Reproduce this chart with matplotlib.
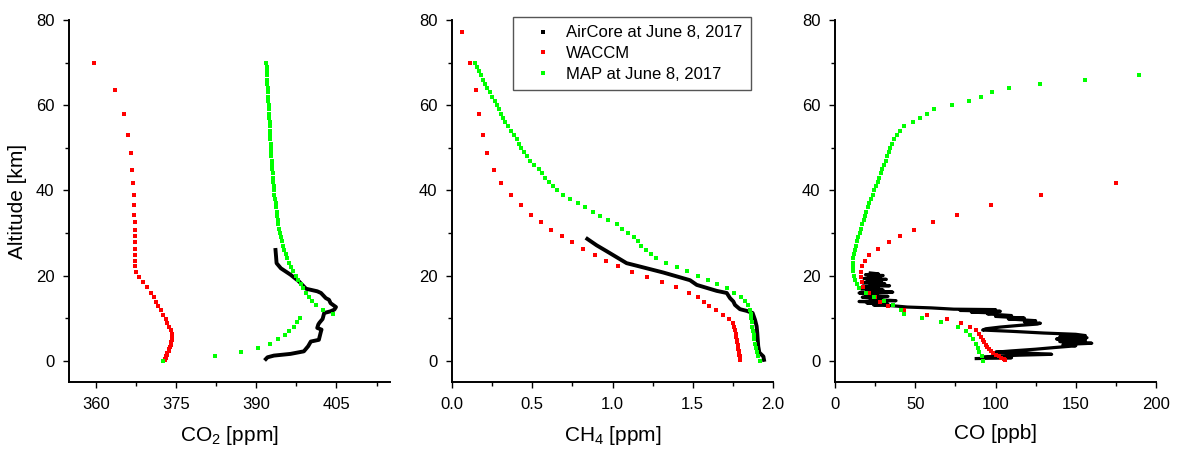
import numpy as np
import matplotlib
matplotlib.use('Agg')
import matplotlib.pyplot as plt
from matplotlib.lines import Line2D
from matplotlib.ticker import MultipleLocator

# ----------------------------------------------------------------------------------------------------------------------
# Datos (altitud en km)
# ----------------------------------------------------------------------------------------------------------------------

# Rejilla de altitud del WACCM
alt_waccm = [77.1, 69.9, 63.5, 57.9, 53.0, 48.7, 44.8, 41.7, 38.8, 36.5, 34.3, 32.5, 30.8, 29.2, 27.8, 26.3,
             24.9, 23.5, 22.2, 20.9, 19.6, 18.4, 17.2, 16.0, 14.9, 13.9, 12.9, 11.8, 10.8, 9.9, 8.9, 8.0, 7.1,
             6.3, 5.6, 4.9, 4.3, 3.7, 3.2, 2.7, 2.2, 1.8, 1.4, 1.0, 0.7, 0.4, 0.1]

co2_waccm = [np.nan, 359.6, 363.6, 365.3, 366.0, 366.5, 366.7, 366.9, 367.1, 367.2, 367.2, 367.3, 367.3, 367.3,
             367.3, 367.3, 367.3, 367.3, 367.4, 367.6, 368.0, 368.8, 369.5, 370.3, 370.8, 371.2, 371.7, 372.2,
             372.6, 373.1, 373.4, 373.7, 374.0, 374.2, 374.2, 374.2, 374.1, 374.0, 373.9, 373.7, 373.6, 373.4,
             373.3, 373.2, 373.1, 373.0, 373.0]

ch4_waccm = [0.064, 0.114, 0.148, 0.168, 0.193, 0.220, 0.260, 0.307, 0.368, 0.428, 0.490, 0.553, 0.617, 0.683,
             0.750, 0.818, 0.889, 0.957, 1.034, 1.120, 1.215, 1.308, 1.397, 1.477, 1.535, 1.570, 1.603, 1.645,
             1.690, 1.726, 1.749, 1.758, 1.763, 1.767, 1.771, 1.774, 1.777, 1.780, 1.782, 1.785, 1.787, 1.789,
             1.791, 1.793, 1.794, 1.795, 1.796]

co_waccm = [np.nan, np.nan, np.nan, np.nan, np.nan, np.nan, np.nan, 175.1, 128.5, 97.4, 76.2, 61.3, 49.4, 40.7,
            33.4, 26.6, 21.4, 18.5, 16.8, 16.0, 16.0, 16.6, 17.7, 21.0, 24.9, 28.0, 32.8, 43.2, 57.5, 70.0, 78.7,
            84.1, 87.9, 89.5, 91.0, 92.0, 93.0, 94.0, 95.0, 96.0, 97.0, 98.5, 100.0, 102.0, 103.5, 105.0, 106.1]

# Rejilla de altitud del MAP
alt_map = [70, 69, 68, 67, 66, 65, 64, 63, 62, 61, 60, 59, 58, 57, 56, 55, 54, 53, 52, 51, 50, 49, 48, 47, 46,
           45, 44, 43, 42, 41, 40, 39, 38, 37, 36, 35, 34, 33, 32, 31, 30, 29, 28, 27, 26, 25, 24, 23, 22, 21,
           20, 19, 18, 17, 16, 15, 14, 13, 12, 11, 10, 9, 8, 7, 6, 5, 4, 3, 2, 1, 0]

co2_map = [391.9, 391.95, 392.0, 392.05, 392.1, 392.1, 392.15, 392.2, 392.2, 392.25,
           392.3, 392.35, 392.4, 392.45, 392.5, 392.5, 392.55, 392.6, 392.65, 392.7,
           392.75, 392.8, 392.85, 392.9, 392.95, 393.0, 393.05, 393.1, 393.2, 393.25,
           393.3, 393.4, 393.5, 393.6, 393.7, 393.8, 393.9, 394.0, 394.15, 394.3,
           394.45, 394.6, 394.8, 395.0, 395.25, 395.5, 395.8, 396.1, 396.5, 396.9,
           397.4, 397.8, 398.3, 398.8, 399.3, 399.9, 400.4, 401.1, 402.4, 404.4,
           398.1, 397.6, 397.0, 396.2, 395.3, 394.1, 392.6, 390.4, 387.2, 382.3, 372.5]

ch4_map = [0.141, 0.153, 0.166, 0.179, 0.191, 0.204, 0.220, 0.237, 0.252, 0.266,
           0.278, 0.292, 0.305, 0.319, 0.333, 0.350, 0.367, 0.384, 0.402, 0.418,
           0.432, 0.447, 0.466, 0.488, 0.512, 0.541, 0.562, 0.582, 0.603, 0.628,
           0.655, 0.690, 0.735, 0.782, 0.830, 0.880, 0.925, 0.970, 1.025, 1.060,
           1.095, 1.135, 1.160, 1.180, 1.207, 1.238, 1.271, 1.333, 1.400, 1.466,
           1.531, 1.593, 1.653, 1.712, 1.760, 1.801, 1.826, 1.846, 1.857, 1.863,
           1.866, 1.869, 1.872, 1.876, 1.880, 1.884, 1.888, 1.893, 1.900, 1.909, 1.920]

co_map = [np.nan, np.nan, np.nan, 189.6, 155.6, 127.9, 108.6, 98.0, 91.2, 83.3,
          73.1, 61.9, 57.5, 53.1, 48.4, 42.8, 40.5, 38.4, 36.8, 35.3,
          34.3, 33.4, 32.4, 31.6, 30.5, 29.5, 28.5, 27.6, 26.6, 25.5,
          24.5, 23.7, 22.6, 21.4, 20.4, 19.5, 18.7, 17.9, 17.0, 16.2,
          15.4, 14.5, 13.7, 13.1, 12.5, 11.8, 11.5, 11.3, 11.3, 11.5,
          11.8, 12.5, 13.5, 15.1, 19.1, 24.3, 30.5, 36.3, 41.1, 43.2,
          54.4, 66.2, 76.6, 81.6, 84.1, 86.2, 87.9, 88.9, 89.9, 91.4, 92.4]

# Perfiles AirCore (trazos)
co2_air = [393.6, 393.7, 393.8, 394.6, 396.4, 398.0, 399.3, 401.4, 402.1, 403.0, 403.6, 403.9, 404.9, 404.6,
           403.9, 402.7, 402.4, 401.8, 401.6, 401.4, 402.2, 402.1, 401.7, 400.2, 399.7, 398.9, 396.4, 393.3,
           392.1, 391.8]
alt_co2_air = [26.0, 24.5, 22.9, 21.7, 20.2, 18.6, 16.9, 16.3, 15.9, 14.7, 14.3, 13.5, 12.6, 12.0,
               11.6, 11.2, 9.8, 8.9, 8.5, 7.7, 7.3, 6.9, 4.9, 4.5, 3.4, 2.2, 1.6, 1.2, 0.8, 0.4]

ch4_air = [0.843, 0.901, 0.964, 1.026, 1.088, 1.151, 1.234, 1.317, 1.400, 1.483, 1.525, 1.587, 1.649, 1.712,
           1.732, 1.753, 1.763, 1.794, 1.836, 1.873, 1.888, 1.898, 1.902, 1.905, 1.908, 1.915, 1.940, 1.944]
alt_ch4_air = [28.6, 27.1, 25.7, 24.3, 22.9, 22.3, 21.5, 20.7, 19.8, 18.9, 17.8, 17.1, 16.4, 15.9,
               14.7, 13.9, 13.1, 12.1, 11.7, 11.2, 9.6, 8.1, 6.5, 4.9, 3.4, 1.9, 1.0, 0.2]

co_air = [22, 27, 19, 30, 21, 28, 18, 32, 20, 29, 17, 31, 22, 34, 18, 27, 16, 30, 20, 36, 15, 26, 19, 33,
          17, 29, 22, 38, 15, 27, 20, 33, 24, 36,
          45, 60, 74,
          100, 78, 103, 85, 100,
          95, 110, 100, 118, 108, 125, 118, 128, 126,
          115, 103, 94, 92,
          110, 130, 150, 156,
          140, 157, 138, 156, 140, 160, 142, 150,
          137, 125, 110, 100, 120, 135, 115, 100, 92, 110, 88]
alt_co_air = [20.6, 20.4, 20.2, 20.0, 19.8, 19.5, 19.3, 19.1, 18.8, 18.6, 18.3, 18.1, 17.9, 17.6, 17.4, 17.1,
              16.9, 16.6, 16.4, 16.1, 15.9, 15.6, 15.4, 15.1, 14.9, 14.6, 14.4, 14.1, 13.9, 13.7, 13.5, 13.3,
              13.1, 12.9,
              12.6, 12.4, 12.1,
              12.0, 11.8, 11.6, 11.4, 11.2,
              11.0, 10.6, 10.4, 10.0, 9.8, 9.4, 9.1, 8.8, 8.6,
              8.3, 7.9, 7.5, 7.2,
              6.9, 6.5, 6.2, 5.9,
              5.6, 5.4, 5.1, 4.8, 4.5, 4.1, 3.8, 3.5,
              3.1, 2.7, 2.3, 2.0, 1.8, 1.5, 1.3, 1.1, 0.8, 0.7, 0.5]

# ----------------------------------------------------------------------------------------------------------------------
# Estilo general
# ----------------------------------------------------------------------------------------------------------------------

plt.rcParams['font.family'] = ['Liberation Sans', 'DejaVu Sans']
plt.rcParams['mathtext.fontset'] = 'custom'
plt.rcParams['mathtext.rm'] = 'Liberation Sans'
plt.rcParams['mathtext.default'] = 'regular'

c_red = '#ff0000'
c_green = '#00ff00'

fig = plt.figure(figsize=(11.77, 4.51), dpi=100)
ancho = 321 / 1177
alto = 362 / 451
abajo = 69 / 451
izquierdas = [69 / 1177, 452 / 1177, 835 / 1177]
axes = [fig.add_axes([x0, abajo, ancho, alto]) for x0 in izquierdas]

paneles = [
    (co2_air, alt_co2_air, co2_waccm, co2_map, (355, 415), 15, 'CO$_2$ [ppm]'),
    (ch4_air, alt_ch4_air, ch4_waccm, ch4_map, (0, 2.0), 0.5, 'CH$_4$ [ppm]'),
    (co_air, alt_co_air, co_waccm, co_map, (0, 200), 50, 'CO [ppb]'),
]

for i, (ax, (air, alt_air, waccm, mapa, xlim, paso, etiqueta)) in enumerate(zip(axes, paneles)):
    # el CO del AirCore es una nube de puntos, se dibuja con trazo algo mas fino
    lw_air = 2.3 if i == 2 else 2.8
    ax.plot(air, alt_air, color='black', lw=lw_air, solid_joinstyle='round', zorder=2)
    ax.plot(waccm, alt_waccm, 's', color=c_red, ms=2.6, mew=0, zorder=3)
    ax.plot(mapa, alt_map, 's', color=c_green, ms=2.4, mew=0, zorder=4)

    ax.set_xlim(*xlim)
    ax.set_ylim(-5, 80)
    ax.xaxis.set_major_locator(MultipleLocator(paso))
    ax.xaxis.set_minor_locator(MultipleLocator(paso / 2))
    ax.yaxis.set_major_locator(MultipleLocator(20))
    ax.yaxis.set_minor_locator(MultipleLocator(10))
    if i == 1:
        ax.xaxis.set_major_formatter(plt.FormatStrFormatter('%.1f'))

    for lado in ['top', 'right']:
        ax.spines[lado].set_visible(False)
    for lado in ['left', 'bottom']:
        ax.spines[lado].set_linewidth(1.4)
    ax.tick_params(which='major', direction='out', length=4.5, width=1.0, labelsize=12, pad=6)
    ax.tick_params(which='minor', direction='out', length=3, width=1.0)
    ax.set_xlabel(etiqueta, fontsize=15, labelpad=9)

axes[0].set_ylabel('Altitude [km]', fontsize=15, labelpad=6)

# Leyenda en el panel central
handles = [Line2D([], [], ls='none', marker='s', ms=2.6, mew=0, color='black'),
           Line2D([], [], ls='none', marker='s', ms=2.6, mew=0, color=c_red),
           Line2D([], [], ls='none', marker='s', ms=2.6, mew=0, color=c_green)]
etiquetas = ['AirCore at June 8, 2017', 'WACCM', 'MAP at June 8, 2017']
leg = axes[1].legend(handles, etiquetas, loc='upper right', bbox_to_anchor=(0.931, 1.008), borderaxespad=0,
                     fontsize=12, fancybox=False, framealpha=1, edgecolor='#555555', handlelength=2.6,
                     handletextpad=0.1, labelspacing=0.35, borderpad=0.5)
leg.get_frame().set_linewidth(1.0)

fig.savefig('out.png', dpi=100)
